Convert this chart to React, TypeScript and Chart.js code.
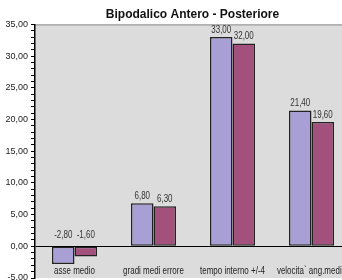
import React, { useEffect, useRef } from "react";
import { Chart, registerables } from "chart.js";

Chart.register(...registerables);

const categories = ["asse medio", "gradi medi errore", "tempo interno +/-4", "velocita` ang.media"];
const seriesA = [-2.8, 6.8, 33.0, 21.4];
const seriesB = [-1.6, 6.3, 32.0, 19.6];
const titleText = "Bipodalico Antero - Posteriore";
const yMin = -5;
const yMax = 35;
const labelAxisValue = -2.7;

const FONT = "'Liberation Sans', Arial, sans-serif";
const NARROW = 0.76;

const fmt = (v: number) => v.toFixed(2).replace(".", ",");

const drawNarrow = (ctx: any, text: string, x: number, y: number) => {
  ctx.save();
  ctx.translate(x, y);
  ctx.scale(NARROW, 1);
  ctx.fillText(text, 0, 0);
  ctx.restore();
};

const bgPlugin = {
  id: "plotBg",
  beforeDraw(chart: any) {
    const { ctx, chartArea } = chart;
    ctx.save();
    ctx.fillStyle = "#DCDCDC";
    ctx.fillRect(chartArea.left, chartArea.top, chartArea.right - chartArea.left, chartArea.bottom - chartArea.top);
    ctx.strokeStyle = "#8A8A8A";
    ctx.lineWidth = 1;
    ctx.beginPath();
    ctx.moveTo(chartArea.left, chartArea.top + 0.5);
    ctx.lineTo(chartArea.right, chartArea.top + 0.5);
    ctx.stroke();
    ctx.restore();
  },
};

const textPlugin = {
  id: "narrowText",
  afterDatasetsDraw(chart: any) {
    const { ctx } = chart;
    ctx.save();
    ctx.font = `10.5px ${FONT}`;
    ctx.fillStyle = "#333";
    ctx.textAlign = "center";
    ctx.textBaseline = "bottom";
    chart.data.datasets.forEach((ds: any, i: number) => {
      const meta = chart.getDatasetMeta(i);
      meta.data.forEach((bar: any, j: number) => {
        const v = ds.data[j];
        const top = Math.min(bar.y, bar.base);
        const off = v < 0 ? 6 : 2;
        drawNarrow(ctx, fmt(v), bar.x, top - off);
      });
    });
    // category labels, placed through the x scale
    const xs = chart.scales.x;
    const ys = chart.scales.y;
    const yPix = ys.getPixelForValue(labelAxisValue) + 2;
    ctx.fillStyle = "#222";
    ctx.textBaseline = "top";
    chart.data.labels.forEach((lab: string, i: number) => {
      drawNarrow(ctx, lab, xs.getPixelForValue(i), yPix);
    });
    ctx.restore();
  },
};

export default function App() {
  const ref = useRef<HTMLCanvasElement>(null);
  useEffect(() => {
    document.body.style.margin = "0";
    const chart = new Chart(ref.current!, {
      type: "bar",
      data: {
        labels: categories,
        datasets: [
          {
            data: seriesA,
            backgroundColor: "#A8A0D4",
            borderColor: "#222",
            borderWidth: 1.5,
            borderSkipped: false,
          },
          {
            data: seriesB,
            backgroundColor: "#A4507C",
            borderColor: "#222",
            borderWidth: 1.5,
            borderSkipped: false,
          },
        ],
      },
      options: {
        animation: false,
        responsive: false,
        maintainAspectRatio: false,
        layout: { padding: { left: 0, right: 0, top: 0, bottom: 2 } },
        datasets: { bar: { categoryPercentage: 0.57, barPercentage: 1 } },
        plugins: {
          legend: { display: false },
          tooltip: { enabled: false },
          title: {
            display: true,
            text: titleText,
            color: "#111",
            font: { family: FONT, size: 12, weight: "bold" },
            padding: { top: 7, bottom: 3 },
          },
        },
        scales: {
          x: {
            position: { y: labelAxisValue } as any,
            grid: { display: false, drawTicks: false, tickLength: 0 },
            border: { display: false },
            ticks: { display: false },
          },
          y: {
            min: yMin,
            max: yMax,
            grid: {
              drawOnChartArea: true,
              color: (c: any) => (c.tick && c.tick.value === 0 ? "#000" : "rgba(0,0,0,0)"),
              lineWidth: 1,
              drawTicks: true,
              tickLength: 4,
              tickColor: "#000",
            },
            border: { display: true, color: "#000", width: 1.5 },
            ticks: {
              stepSize: 1,
              autoSkip: false,
              color: "#222",
              padding: 3,
              font: { family: FONT, size: 9 },
              callback: (v: any) => (Number(v) % 5 === 0 ? fmt(Number(v)) : ""),
            },
            afterFit: (s: any) => {
              s.width = 35;
              s.paddingTop = 0;
              s.paddingBottom = 0;
            },
          },
          yRight: {
            type: "linear",
            position: "right",
            display: true,
            grid: { display: false, drawTicks: false },
            border: { display: false },
            ticks: { display: false },
            afterFit: (s: any) => {
              s.width = 34;
              s.paddingTop = 0;
              s.paddingBottom = 0;
            },
          },
        },
      },
      plugins: [bgPlugin, textPlugin],
    });
    return () => chart.destroy();
  }, []);
  return (
    <div style={{ width: 342, height: 280, overflow: "hidden" }}>
      <canvas ref={ref} width={385} height={280} style={{ display: "block" }} />
    </div>
  );
}
